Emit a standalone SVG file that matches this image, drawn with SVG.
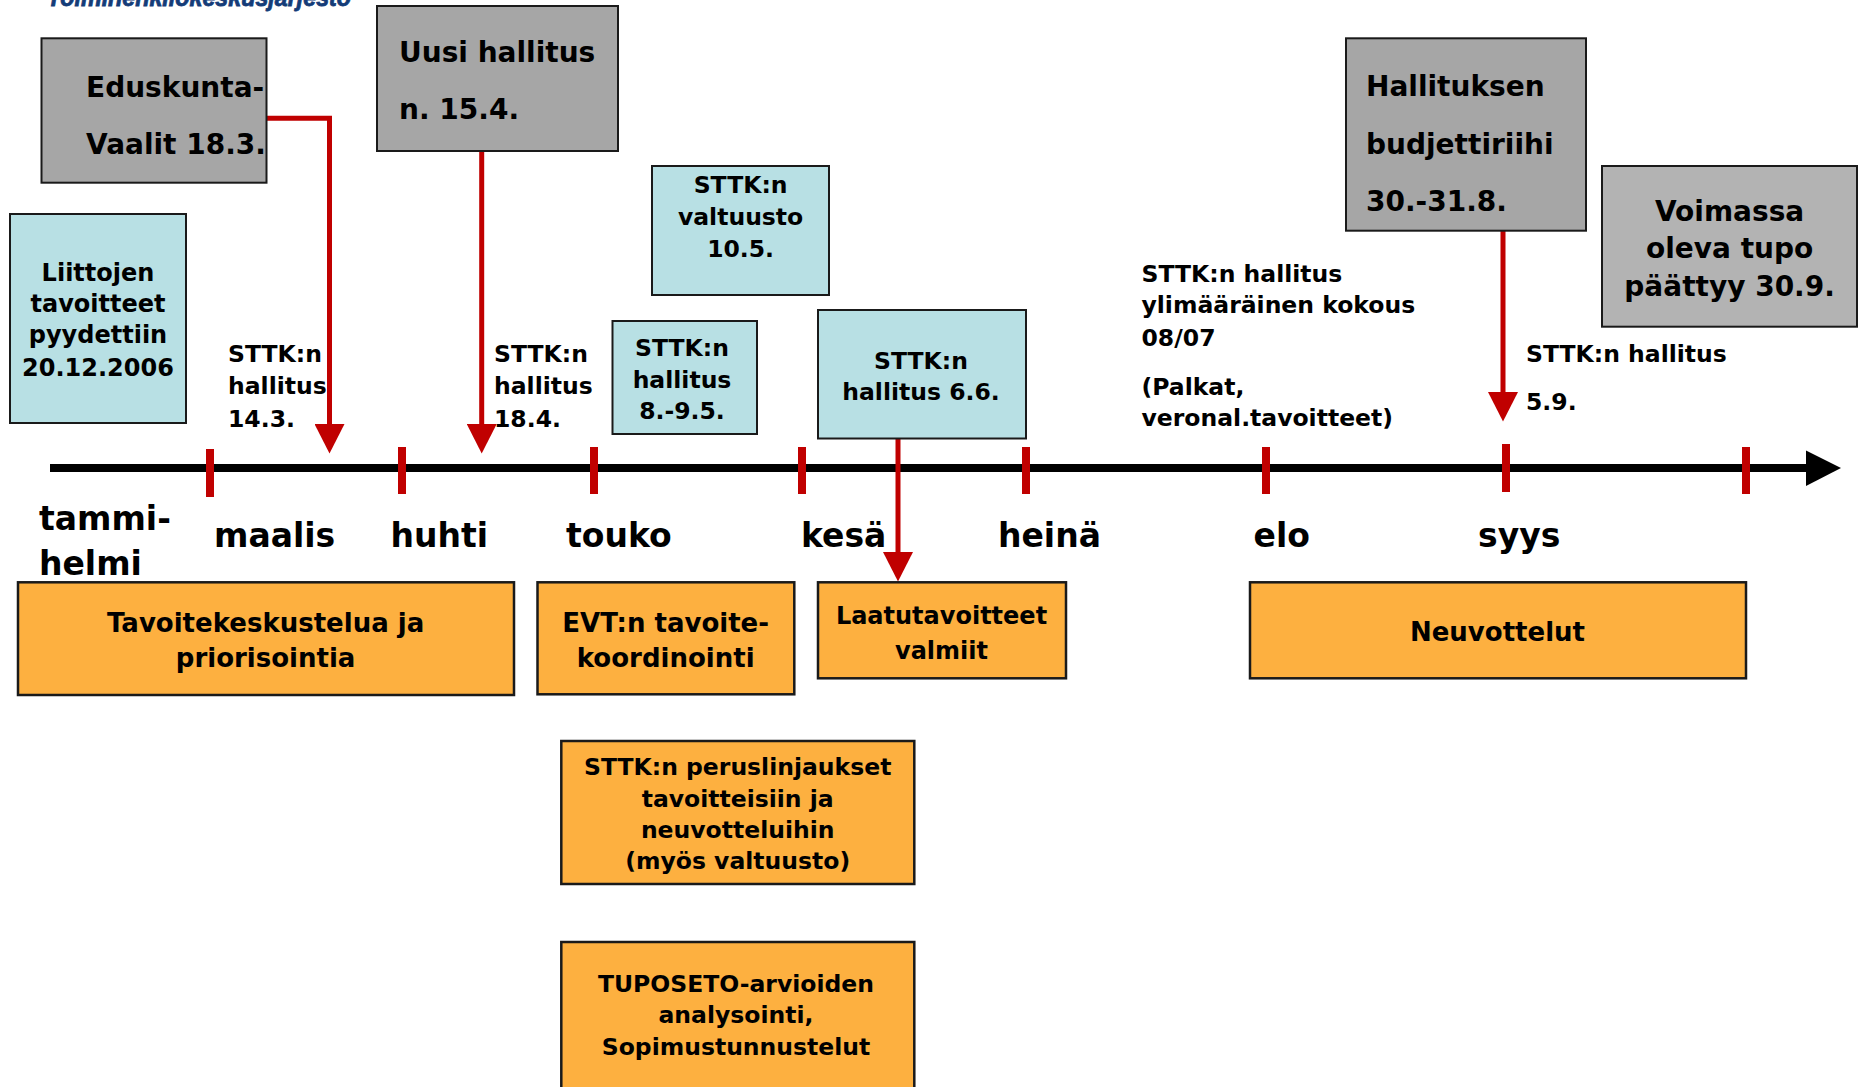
<svg xmlns="http://www.w3.org/2000/svg" width="1858" height="1087" viewBox="0 0 1858 1087">
<style>
text{font-family:"DejaVu Sans","Verdana",sans-serif;font-weight:bold;fill:#000}
.gray{fill:#a6a6a6;stroke:#1a1a1a;stroke-width:2}
.gray2{fill:#b3b3b3;stroke:#1a1a1a;stroke-width:2}
.cyan{fill:#b8e0e4;stroke:#1a1a1a;stroke-width:2}
.orange{fill:#fdb040;stroke:#1a1a1a;stroke-width:2.5}
.gt{font-size:28px}
.ct{font-size:23.5px;text-anchor:middle}
.lb{font-size:23.5px}
.ot{font-size:26px;text-anchor:middle}
.mt{font-size:33px}
.tick{stroke:#c00000;stroke-width:8}
.red{fill:none;stroke:#c00000;stroke-width:5}
</style>
<defs>
<marker id="ah" markerUnits="userSpaceOnUse" markerWidth="30" markerHeight="30" refX="0" refY="15" orient="auto" viewBox="0 0 30 30">
<path d="M0,0 L29.5,15 L0,30 z" fill="#c00000"/>
</marker>
</defs>
<rect width="1858" height="1087" fill="#fff"/>
<text x="47" y="6" font-size="25" font-style="italic" textLength="304" lengthAdjust="spacingAndGlyphs" style="font-family:'Liberation Sans',Arial,sans-serif;fill:#143c78;stroke:#143c78;stroke-width:0.8">Toimihenkilökeskusjärjestö</text>

<g id="timeline">
<line x1="50" y1="468" x2="1808" y2="468" stroke="#000" stroke-width="8"/>
<polygon points="1806,450.5 1841,468 1806,486" fill="#000"/>
<line class="tick" x1="210" y1="449" x2="210" y2="497"/>
<line class="tick" x1="402" y1="447" x2="402" y2="494"/>
<line class="tick" x1="594" y1="447" x2="594" y2="494"/>
<line class="tick" x1="802" y1="447" x2="802" y2="494"/>
<line class="tick" x1="1026" y1="447" x2="1026" y2="494"/>
<line class="tick" x1="1266" y1="447" x2="1266" y2="494"/>
<line class="tick" x1="1506" y1="444" x2="1506" y2="492"/>
<line class="tick" x1="1746" y1="447" x2="1746" y2="494"/>
</g>

<g id="months">
<text class="mt" x="39" y="530">tammi-</text>
<text class="mt" x="39" y="575">helmi</text>
<text class="mt" x="214" y="546.7">maalis</text>
<text class="mt" x="390.6" y="546.7">huhti</text>
<text class="mt" x="566" y="546.7">touko</text>
<text class="mt" x="801" y="546.7">kesä</text>
<text class="mt" x="998" y="546.7">heinä</text>
<text class="mt" x="1253.6" y="546.7">elo</text>
<text class="mt" x="1478" y="546.7">syys</text>
</g>

<g id="connectors">
<path class="red" d="M266,118.3 H329.5 V424" marker-end="url(#ah)"/>
<path class="red" d="M481.7,151 V424" marker-end="url(#ah)"/>
<path class="red" d="M898,438.5 V552" marker-end="url(#ah)"/>
<path class="red" d="M1503,230.7 V392" marker-end="url(#ah)"/>
</g>

<g id="eduskunta">
<rect class="gray" x="41.5" y="38.3" width="225" height="144.4"/>
<text class="gt" x="86" y="96.7">Eduskunta-</text>
<text class="gt" x="86" y="154">Vaalit 18.3.</text>
</g>

<g id="uusi-hallitus">
<rect class="gray" x="377" y="6" width="241" height="145"/>
<text class="gt" x="399" y="61.7">Uusi hallitus</text>
<text class="gt" x="399" y="119.3">n. 15.4.</text>
</g>

<g id="hallituksen-budjettiriihi">
<rect class="gray" x="1346" y="38.3" width="240" height="192.4"/>
<text class="gt" x="1366" y="96">Hallituksen</text>
<text class="gt" x="1366" y="154">budjettiriihi</text>
<text class="gt" x="1366" y="210.7">30.-31.8.</text>
</g>

<g id="voimassa">
<rect class="gray2" x="1602" y="166" width="255" height="160.7"/>
<text class="gt" x="1729.6" y="220.7" text-anchor="middle">Voimassa</text>
<text class="gt" x="1729.6" y="258.3" text-anchor="middle">oleva tupo</text>
<text class="gt" x="1729.6" y="296" text-anchor="middle">päättyy 30.9.</text>
</g>

<g id="liittojen">
<rect class="cyan" x="10" y="214" width="176" height="209"/>
<text class="ct" x="98" y="280.7" style="font-size:24px">Liittojen</text>
<text class="ct" x="98" y="312.3" style="font-size:24px">tavoitteet</text>
<text class="ct" x="98" y="343.3" style="font-size:24px">pyydettiin</text>
<text class="ct" x="98" y="375.7" style="font-size:24px">20.12.2006</text>
</g>

<g id="valtuusto">
<rect class="cyan" x="652" y="166" width="177" height="129"/>
<text class="ct" x="740.6" y="193.3">STTK:n</text>
<text class="ct" x="740.6" y="225.3">valtuusto</text>
<text class="ct" x="740.6" y="256.7">10.5.</text>
</g>

<g id="hallitus-8-9-5">
<rect class="cyan" x="612.5" y="321" width="144.5" height="113"/>
<text class="ct" x="682" y="355.7">STTK:n</text>
<text class="ct" x="682" y="387.7">hallitus</text>
<text class="ct" x="682" y="419.3">8.-9.5.</text>
</g>

<g id="hallitus-6-6">
<rect class="cyan" x="818" y="310" width="208" height="128.5"/>
<text class="ct" x="921" y="369">STTK:n</text>
<text class="ct" x="921" y="400">hallitus 6.6.</text>
</g>

<g id="label-14-3">
<text class="lb" x="228" y="362.3">STTK:n</text>
<text class="lb" x="228" y="394.3">hallitus</text>
<text class="lb" x="228" y="426.7">14.3.</text>
</g>

<g id="label-18-4">
<text class="lb" x="494" y="362.3">STTK:n</text>
<text class="lb" x="494" y="394.3">hallitus</text>
<text class="lb" x="494" y="426.7">18.4.</text>
</g>

<g id="label-ylimaarainen">
<text class="lb" x="1141.5" y="282.3">STTK:n hallitus</text>
<text class="lb" x="1141.5" y="313.3">ylimääräinen kokous</text>
<text class="lb" x="1141.5" y="345.7">08/07</text>
<text class="lb" x="1141.5" y="395">(Palkat,</text>
<text class="lb" x="1141.5" y="426">veronal.tavoitteet)</text>
</g>

<g id="label-5-9">
<text class="lb" x="1526" y="362.3">STTK:n hallitus</text>
<text class="lb" x="1526" y="410">5.9.</text>
</g>

<g id="tavoitekeskustelu">
<rect class="orange" x="18" y="582.3" width="496" height="112.7"/>
<text class="ot" x="265.6" y="632.3">Tavoitekeskustelua ja</text>
<text class="ot" x="265.6" y="666.7">priorisointia</text>
</g>

<g id="evt">
<rect class="orange" x="537.5" y="582.3" width="256.8" height="112"/>
<text class="ot" x="665.7" y="631.7">EVT:n tavoite-</text>
<text class="ot" x="665.7" y="666.7">koordinointi</text>
</g>

<g id="laatutavoitteet">
<rect class="orange" x="818" y="582.3" width="248" height="96"/>
<text class="ot" x="941.5" y="624" style="font-size:24px">Laatutavoitteet</text>
<text class="ot" x="941.5" y="659" style="font-size:24px">valmiit</text>
</g>

<g id="neuvottelut">
<rect class="orange" x="1250" y="582.3" width="496" height="96"/>
<text class="ot" x="1497.5" y="641">Neuvottelut</text>
</g>

<g id="peruslinjaukset">
<rect class="orange" x="561.3" y="741" width="353" height="143"/>
<text class="ot" x="737.7" y="775" style="font-size:23.5px">STTK:n peruslinjaukset</text>
<text class="ot" x="737.7" y="806.7" style="font-size:23.5px">tavoitteisiin ja</text>
<text class="ot" x="737.7" y="838.3" style="font-size:23.5px">neuvotteluihin</text>
<text class="ot" x="737.7" y="869.3" style="font-size:23.5px">(myös valtuusto)</text>
</g>

<g id="tuposeto">
<rect class="orange" x="561.3" y="942" width="353" height="152"/>
<text class="ot" x="736" y="991.7" style="font-size:23.5px">TUPOSETO-arvioiden</text>
<text class="ot" x="736" y="1023.3" style="font-size:23.5px">analysointi,</text>
<text class="ot" x="736" y="1055" style="font-size:23.5px">Sopimustunnustelut</text>
</g>
</svg>
